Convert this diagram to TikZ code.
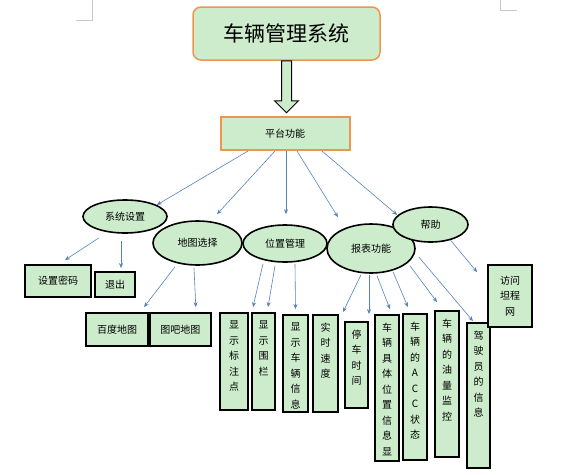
\documentclass[tikz,border=0pt]{standalone}
\usepackage{fontspec}
\newfontfamily\cjk{Noto Sans CJK SC}
\usetikzlibrary{positioning}
\usetikzlibrary{arrows.meta}
\usetikzlibrary{shapes.geometric}
\definecolor{figVerde}{RGB}{204,236,204}
\definecolor{figNaranjaBorde}{RGB}{237,150,80}
\definecolor{figAzulBorde}{RGB}{85,130,190}
\definecolor{figGrisBorde}{RGB}{200,200,200}
\tikzset{
  titulo/.style={
    rectangle, rounded corners=8pt, draw=figNaranjaBorde, line width=1.5pt,
    fill=figVerde, minimum width=187pt, minimum height=53pt,
    font=\cjk\fontsize{21}{24}\selectfont, inner sep=0pt
  },
  bloquen/.style={
    rectangle, draw=figNaranjaBorde, line width=2pt, fill=figVerde,
    minimum width=129pt, minimum height=33pt,
    font=\cjk\fontsize{10}{12}\selectfont
  },
  elipse/.style={
    ellipse, draw=black, line width=1.6pt, fill=figVerde, inner sep=0pt,
    font=\cjk\fontsize{10}{12}\selectfont
  },
  caja/.style={
    rectangle, draw=black, line width=1.8pt, fill=figVerde, inner sep=0pt,
    align=center, font=\cjk\fontsize{10}{15.5}\selectfont
  },
  columna/.style={
    caja,
    label={[anchor=north, yshift=-5pt, align=center,
            font=\cjk\fontsize{10}{15.5}\selectfont]north:#1}
  },
  flecha/.style={-{Stealth[length=5pt,width=4pt]}, line width=0.6pt, draw=figAzulBorde},
  hueca/.style={draw=black, line width=1pt, fill=figVerde, line join=miter},
  marca/.style={draw=figGrisBorde, line width=0.8pt}
}
\begin{document}
\begin{tikzpicture}[x=1pt, y=-1pt]
  \useasboundingbox (0,0) rectangle (588,474);
  % Marcas de página
  \draw[marca] (76,20) -- (92,20) -- (92,0);
  \draw[marca] (500,0) -- (500,10) -- (517,10);

  % Nivel 1: sistema y plataforma
  \node[titulo] (sistema) at (286.5,33.5) {车辆管理系统};
  \node[bloquen] (plataforma) at (285,133.5) {平台功能};
  \draw[hueca] ([xshift=-5pt]sistema.south) -- ++(0,40) -- ++(-7,0) -- ++(12,12)
    -- ++(12,-12) -- ++(-7,0) -- ([xshift=5pt]sistema.south) -- cycle;

  % Nivel 2: módulos
  \node[elipse, minimum width=84pt, minimum height=33pt] (ajustes) at (125,216.5) {系统设置};
  \node[elipse, minimum width=89pt, minimum height=44pt] (mapa) at (197.5,243) {地图选择};
  \node[elipse, minimum width=84pt, minimum height=37pt] (posicion) at (285,243.5) {位置管理};
  \node[elipse, minimum width=88pt, minimum height=49pt] (informe) at (371,248.5) {报表功能};
  \node[elipse, minimum width=75pt, minimum height=35pt] (ayuda) at (430.5,224.5) {帮助};

  \draw[flecha] ([xshift=-37pt]plataforma.south) -- (ajustes.20);
  \draw[flecha] ([xshift=-10pt]plataforma.south) -- ([xshift=19.5pt,yshift=6pt]mapa.north);
  \draw[flecha] ([xshift=1pt]plataforma.south) -- ([xshift=1pt,yshift=10pt]posicion.north);
  \draw[flecha] ([xshift=12pt]plataforma.south) -- ([xshift=-33pt,yshift=6pt]informe.north);
  \draw[flecha] ([xshift=37pt]plataforma.south) -- ([xshift=5pt,yshift=9.5pt]ayuda.west);

  % Nivel 3: funciones
  \node[caja, minimum width=66pt, minimum height=32pt] (clave) at (58,281) {设置密码};
  \node[caja, minimum width=40pt, minimum height=25pt] (salir) at (115,284.5) {退出};
  \node[caja, minimum width=62pt, minimum height=33pt] (baidu) at (117,329.5) {百度地图};
  \node[caja, minimum width=61pt, minimum height=33pt, right=0pt of baidu] (tuba) {图吧地图};
  \node[columna={显\\示\\标\\注\\点}, minimum width=28pt, minimum height=97pt] (marcas) at (234,361.5) {};
  \node[columna={显\\示\\围\\栏}, minimum width=23pt, minimum height=97pt] (cerca) at (263.5,361.5) {};
  \node[columna={显\\示\\车\\辆\\信\\息}, minimum width=25pt, minimum height=97pt] (vehiculo) at (295.5,363.5) {};
  \node[columna={实\\时\\速\\度}, minimum width=25pt, minimum height=97pt] (velocidad) at (325.5,363.5) {};
  \node[columna={停\\车\\时\\间}, minimum width=23pt, minimum height=86pt] (parada) at (356.5,365) {};
  \node[columna={车\\辆\\具\\体\\位\\置\\信\\息\\显}, minimum width=24pt, minimum height=146pt] (ubicacion) at (387,388) {};
  \node[columna={车\\辆\\的\\A\\C\\C\\状\\态}, minimum width=24pt, minimum height=146pt] (acc) at (415,387) {};
  \node[columna={车\\辆\\的\\油\\量\\监\\控}, minimum width=24pt, minimum height=146pt] (aceite) at (447,384) {};
  \node[columna={驾\\驶\\员\\的\\信\\息}, minimum width=23pt, minimum height=145pt] (conductor) at (478.5,395.5) {};
  \node[caja, minimum width=44pt, minimum height=62pt] (web) at (510,296) {访问\\坦程\\网};

  % Sistema
  \draw[flecha] ([xshift=-26pt,yshift=-4pt]ajustes.south) -- ([xshift=7pt,yshift=4pt]clave.north);
  \draw[flecha] ([xshift=-4pt,yshift=-7pt]ajustes.south) -- ([xshift=6pt,yshift=3pt]salir.north);
  % Mapa
  \draw[flecha] ([xshift=-22.5pt,yshift=-1pt]mapa.south) -- ([xshift=27pt,yshift=5pt]baidu.north);
  \draw[flecha] ([xshift=-3.5pt,yshift=-2pt]mapa.south) -- ([xshift=15.5pt,yshift=5pt]tuba.north);
  % Posición
  \draw[flecha] ([xshift=-22pt,yshift=-1pt]posicion.south) -- ([xshift=19pt,yshift=5pt]marcas.north);
  \draw[flecha] ([xshift=-10pt,yshift=-3pt]posicion.south) -- ([xshift=4.5pt,yshift=5pt]cerca.north);
  \draw[flecha] ([xshift=10pt,yshift=-1pt]posicion.south) -- ([yshift=5pt]vehiculo.north);
  % Informe
  \draw[flecha] ([xshift=-10pt,yshift=-1pt]informe.south) -- ([xshift=17.5pt,yshift=2pt]velocidad.north);
  \draw[flecha] ([xshift=-2pt,yshift=-1pt]informe.south) -- ([xshift=12.5pt,yshift=7pt]parada.north);
  \draw[flecha] ([xshift=6pt,yshift=-2pt]informe.south) -- ([xshift=3pt,yshift=5pt]ubicacion.north);
  \draw[flecha] ([xshift=22pt,yshift=2pt]informe.south) -- ([xshift=-7pt,yshift=6pt]acc.north);
  \draw[flecha] ([xshift=39pt,yshift=8pt]informe.south) -- ([xshift=-10pt,yshift=8pt]aceite.north);
  \draw[flecha] ([xshift=3pt,yshift=-8.5pt]informe.east) -- ([xshift=-5.5pt,yshift=1pt]conductor.north);
  % Ayuda
  \draw[flecha] (ayuda.-38) -- ([xshift=-10pt,yshift=-8pt]web.north west);
\end{tikzpicture}
\end{document}
